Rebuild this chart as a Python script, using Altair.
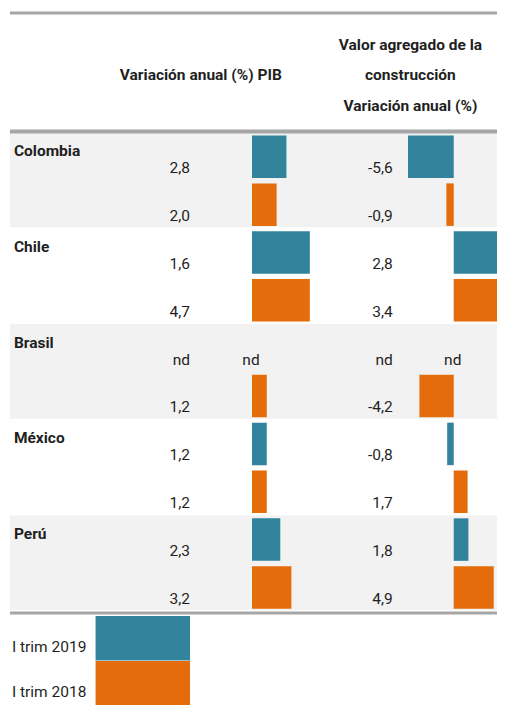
import altair as alt
import pandas as pd

countries = ["Colombia", "Chile", "Brasil", "México", "Perú"]
series = ["I trim 2019", "I trim 2018"]
pib_2019 = [2.8, 1.6, None, 1.2, 2.3]
pib_2018 = [2.0, 4.7, 1.2, 1.2, 3.2]
cons_2019 = [-5.6, 2.8, None, -0.8, 1.8]
cons_2018 = [-0.9, 3.4, -4.2, 1.7, 4.9]
# bar lengths as drawn by the source's data bars
pib_bar_2019 = [2.8, 4.7, None, 1.2, 2.3]
pib_bar_2018 = [2.0, 4.7, 1.2, 1.2, 3.2]
cons_bar_2019 = [-5.6, 5.4, None, -0.8, 1.8]
cons_bar_2018 = [-0.9, 5.4, -4.2, 1.7, 4.9]
colors = ["#31849B", "#E46C0A"]
header_pib = "Variación anual (%) PIB"
header_cons = ["Valor agregado de la", "construcción", "Variación anual (%)"]

FONT = "Roboto, Lato, sans-serif"
TXT = "#1f1f1f"


def fmt(v):
    return "nd" if v is None else f"{v:.1f}".replace(".", ",")


# layout (page pixel coordinates of the reference)
TOP0, BAND, SUB = 135.0, 96.8, 48.4

rows = []
for c, name in enumerate(countries):
    vals = [
        (pib_2019[c], cons_2019[c], pib_bar_2019[c], cons_bar_2019[c]),
        (pib_2018[c], cons_2018[c], pib_bar_2018[c], cons_bar_2018[c]),
    ]
    for s, (p, k, pb, kb) in enumerate(vals):
        top = TOP0 + c * BAND + s * SUB
        rows.append(dict(
            country=name, serie=series[s],
            pib_lbl=fmt(p), cons_lbl=fmt(k),
            pib_bar=pb, cons_bar=kb, zero=0.0,
            nd=p is None,
            y_top=top + 2, y_bot=top + 45, y_lbl=top + 35,
            x_pib=193, x_cons=399, x_nd1=255, x_nd2=460,
        ))
df = pd.DataFrame(rows)
bars_df = df[df["pib_bar"].notna()]
nd_df = df[df["nd"]]

bands = pd.DataFrame([
    dict(x1=10, x2=505, y1=TOP0 + c * BAND - 1, y2=TOP0 + (c + 1) * BAND - 2,
         fill="#F2F2F2" if c % 2 == 0 else "#FFFFFF")
    for c in range(len(countries))
])
country_df = pd.DataFrame([
    dict(x=14, y=TOP0 + c * BAND + 18, t=n) for c, n in enumerate(countries)
])
rules = pd.DataFrame([
    dict(x1=10, x2=505, y=13, w=3),
    dict(x1=10, x2=505, y=133, w=4),
    dict(x1=10, x2=505, y=620, w=3),
])
headers = pd.DataFrame(
    [dict(x=204, y=76, t=header_pib)]
    + [dict(x=417, y=45 + i * 31, t=t) for i, t in enumerate(header_cons)]
)
legend_df = pd.DataFrame([
    dict(serie=series[i], x1=97, x2=193, y1=623 + i * 45.5, y2=668 + i * 45.5,
         tx=12, ty=654 + i * 46)
    for i in range(2)
])

XL = alt.Scale(domain=[8, 505], nice=False, zero=False)
YL = alt.Scale(domain=[8, 713], reverse=True, nice=False, zero=False)
COL = alt.Scale(domain=series, range=colors)

W, H = 489, 697
K = W / 497.0  # page px per reference px


def X(f):
    return alt.X(f, scale=XL, axis=None)


def Y(f):
    return alt.Y(f, scale=YL, axis=None)


def txt(data, xf, yf, tf, align="left", bold=False, size=15.5):
    return alt.Chart(data).mark_text(
        align=align, baseline="middle", font=FONT, fontSize=size,
        fontWeight="bold" if bold else "normal", color=TXT
    ).encode(x=X(xf), y=Y(yf), text=tf)


band_layer = alt.Chart(bands).mark_rect().encode(
    x=X("x1:Q"), x2="x2:Q", y=Y("y1:Q"), y2="y2:Q",
    fill=alt.Fill("fill:N", scale=None),
)
rule_layer = alt.Chart(rules).mark_rule(color="#A6A6A6").encode(
    x=X("x1:Q"), x2="x2:Q", y=Y("y:Q"),
    size=alt.Size("w:Q", scale=None, legend=None),
)
# PIB bars: zero at reference x=256, 12.5 reference px per percentage point
pib_bars = alt.Chart(bars_df).mark_bar(clip=True).encode(
    x=alt.X("pib_bar:Q", scale=alt.Scale(domain=[-19.84, 19.92], nice=False, zero=False), axis=None),
    x2="zero:Q",
    y=Y("y_top:Q"), y2="y_bot:Q",
    color=alt.Color("serie:N", scale=COL, legend=None),
)
# construction bars: zero at reference x=461, 8.3 reference px per point
cons_bars = alt.Chart(bars_df).mark_bar(clip=True).encode(
    x=alt.X("cons_bar:Q", scale=alt.Scale(domain=[-54.58, 5.30], nice=False, zero=False), axis=None),
    x2="zero:Q",
    y=Y("y_top:Q"), y2="y_bot:Q",
    color=alt.Color("serie:N", scale=COL, legend=None),
)
pib_txt = txt(df, "x_pib:Q", "y_lbl:Q", "pib_lbl:N", align="right")
cons_txt = txt(df, "x_cons:Q", "y_lbl:Q", "cons_lbl:N", align="right")
nd_pib = txt(nd_df, "x_nd1:Q", "y_lbl:Q", "pib_lbl:N", align="center")
nd_cons = txt(nd_df, "x_nd2:Q", "y_lbl:Q", "cons_lbl:N", align="center")
country_txt = txt(country_df, "x:Q", "y:Q", "t:N", bold=True)
header_txt = txt(headers, "x:Q", "y:Q", "t:N", align="center", bold=True)
legend_box = alt.Chart(legend_df).mark_rect().encode(
    x=X("x1:Q"), x2="x2:Q", y=Y("y1:Q"), y2="y2:Q",
    color=alt.Color("serie:N", scale=COL, legend=None),
)
legend_txt = txt(legend_df, "tx:Q", "ty:Q", "serie:N")

chart = alt.layer(
    band_layer, rule_layer, pib_bars, cons_bars, pib_txt, cons_txt,
    nd_pib, nd_cons, country_txt, header_txt, legend_box, legend_txt,
).resolve_scale(x="independent").properties(
    width=W, height=H, padding=0, background="white",
    autosize=alt.AutoSizeParams(type="none"),
).configure_view(stroke=None)

chart.save("out.html", embed_options={"renderer": "svg", "actions": False})
